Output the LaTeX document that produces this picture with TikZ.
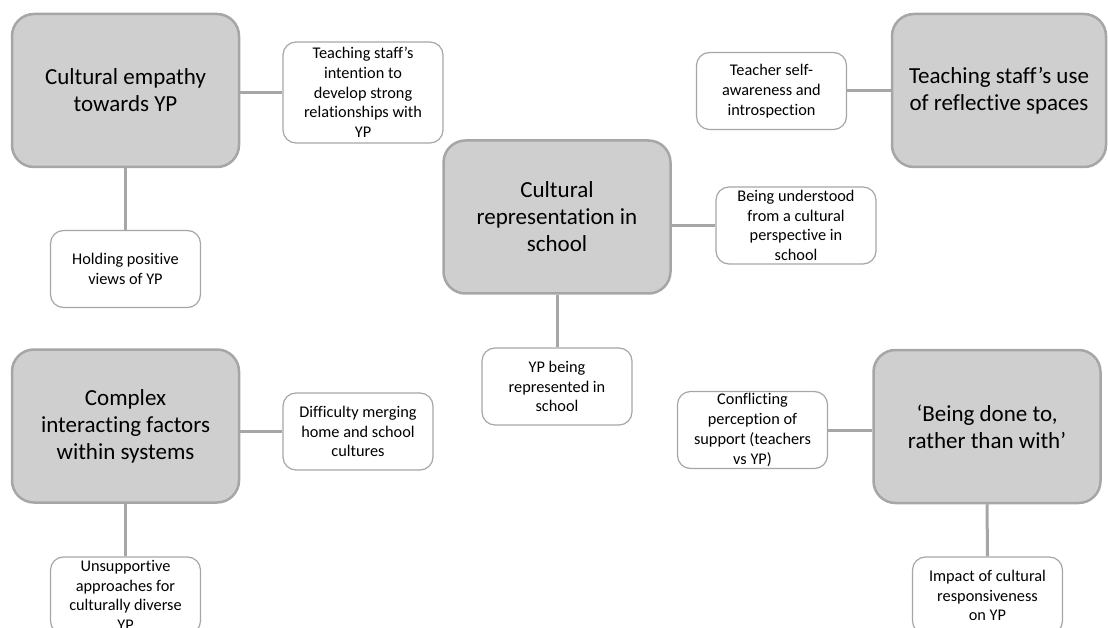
\documentclass[tikz,border=0pt]{standalone}
\usepackage{fontspec}
\setmainfont{Carlito}[Ligatures=NoCommon]
\usepackage{tikz}
\definecolor{themegray}{RGB}{207,207,207}
\definecolor{edgegray}{RGB}{166,166,166}
\usetikzlibrary{positioning, calc}

\begin{document}
\begin{tikzpicture}[
    x=1pt, y=-1pt,
    theme/.style={rectangle, draw=edgegray, line width=2.5pt, fill=themegray, rounded corners=22pt, minimum width=227pt, minimum height=153pt, align=center, inner sep=0pt, font=\fontsize{23}{27}\selectfont},
    subtheme/.style={rectangle, draw=edgegray, line width=1.2pt, fill=white, rounded corners=13pt, minimum width=150pt, minimum height=77pt, align=center, inner sep=0pt, font=\fontsize{16.3}{19.7}\selectfont},
    link/.style={draw=edgegray, line width=3pt}
]
    \useasboundingbox (0,0) rectangle (1108,628);
    \clip (0,0) rectangle (1108,628);

    % Themes
    \node[theme] (empathy) at (125.5, 90.5) {Cultural empathy\\towards YP};
    \node[theme, minimum width=214pt] (reflective) at (999, 90.5) {Teaching staff’s use\\of reflective spaces};
    \node[theme] (represent) at (557, 217) {Cultural\\representation in\\school};
    \node[theme] (systems) at (125.5, 426) {Complex\\interacting factors\\within systems};
    \node[theme] (doneto) at (987, 426.5) {‘Being done to,\\rather than with’};

    % Subthemes
    \node[subtheme, minimum width=160pt, minimum height=101pt] (intention) at (363, 92.5) {Teaching staff’s\\intention to\\develop strong\\relationships with\\YP};
    \node[subtheme] (positive) at (125.5, 269) {Holding positive\\views of YP};
    \node[subtheme] (selfaware) at (771.5, 91) {Teacher self-\\awareness and\\introspection};
    \node[subtheme, minimum width=160pt] (understood) at (796, 225.5) {Being understood\\from a cultural\\perspective in\\school};
    \node[subtheme] (represented) at (557, 386.5) {YP being\\represented in\\school};
    \node[subtheme] (merging) at (358, 431.5) {Difficulty merging\\home and school\\cultures};
    \node[subtheme] (unsupport) at (125.5, 595.5) {Unsupportive\\approaches for\\culturally diverse\\YP};
    \node[subtheme] (conflict) at (752.5, 430) {Conflicting\\perception of\\support (teachers\\vs YP)};
    \node[subtheme] (impact) at (987.5, 595.5) {Impact of cultural\\responsiveness\\on YP};

    % Links
    \draw[link] (intention.west) -- (intention.west -| empathy.east);
    \draw[link] (empathy.south) -- (positive.north);
    \draw[link] (selfaware.east) -- (selfaware.east -| reflective.west);
    \draw[link] (understood.west) -- (understood.west -| represent.east);
    \draw[link] (represent.south) -- (represented.north);
    \draw[link] (merging.west) -- (merging.west -| systems.east);
    \draw[link] (systems.south) -- (unsupport.north);
    \draw[link] (conflict.east) -- (conflict.east -| doneto.west);
    \draw[link] (doneto.south) -- (impact.north);
\end{tikzpicture}
\end{document}
